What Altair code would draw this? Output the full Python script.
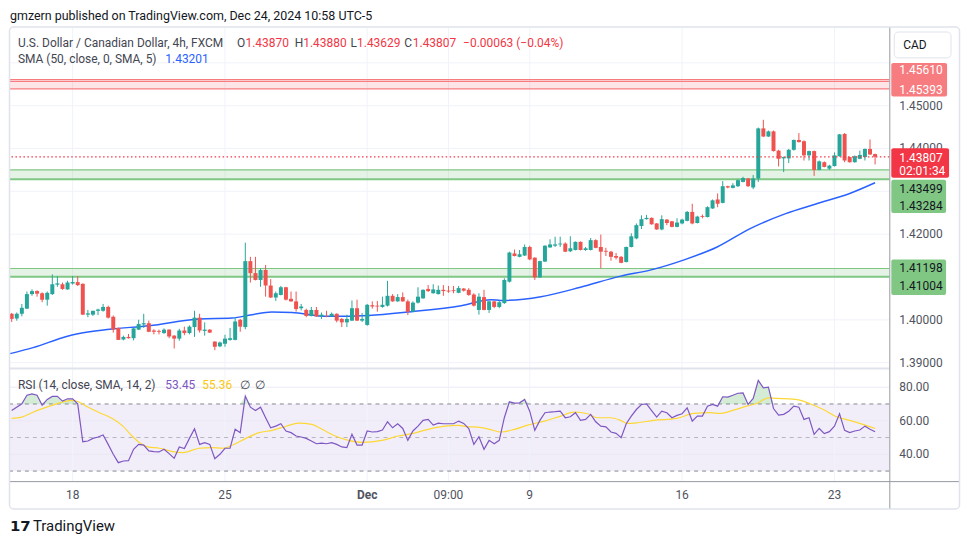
import altair as alt
import pandas as pd
import numpy as np

# ---------------- data ----------------
opens = [1.4014, 1.4003, 1.4014, 1.4026, 1.4060, 1.4067, 1.4062, 1.4047, 1.4060, 1.4082,
         1.4083, 1.4071, 1.4085, 1.4088, 1.4084, 1.4012, 1.4012, 1.4021, 1.4021, 1.4030,
         1.4007, 1.3981, 1.3954, 1.3960, 1.3957, 1.3977, 1.3989, 1.3992, 1.3975, 1.3974,
         1.3969, 1.3977, 1.3963, 1.3956, 1.3975, 1.3969, 1.3983, 1.4005, 1.3974, 1.3977,
         1.3949, 1.3938, 1.3944, 1.3953, 1.3953, 1.4000, 1.3983, 1.4137, 1.4109, 1.4093,
         1.4116, 1.4080, 1.4052, 1.4058, 1.4076, 1.4049, 1.4043, 1.4027, 1.4023, 1.4009,
         1.4023, 1.4008, 1.4009, 1.4008, 1.4014, 1.4002, 1.3994, 1.3998, 1.4027, 1.3998,
         1.3988, 1.4034, 1.4033, 1.4030, 1.4033, 1.4056, 1.4043, 1.4053, 1.4043, 1.4019,
         1.4040, 1.4050, 1.4072, 1.4062, 1.4060, 1.4070, 1.4068, 1.4069, 1.4063, 1.4073,
         1.4070, 1.4059, 1.4023, 1.4053, 1.4023, 1.4043, 1.4030, 1.4039, 1.4089, 1.4155,
         1.4147, 1.4150, 1.4170, 1.4145, 1.4099, 1.4136, 1.4169, 1.4173, 1.4176, 1.4178,
         1.4160, 1.4163, 1.4182, 1.4163, 1.4163, 1.4186, 1.4170, 1.4161, 1.4159, 1.4149,
         1.4147, 1.4135, 1.4170, 1.4190, 1.4219, 1.4235, 1.4238, 1.4225, 1.4211, 1.4234,
         1.4230, 1.4217, 1.4225, 1.4231, 1.4252, 1.4226, 1.4242, 1.4240, 1.4260, 1.4281,
         1.4273, 1.4312, 1.4308, 1.4312, 1.4322, 1.4330, 1.4309, 1.4330, 1.4447, 1.4428,
         1.4440, 1.4395, 1.4377, 1.4377, 1.4397, 1.4420, 1.4417, 1.4384, 1.4394, 1.4350,
         1.4368, 1.4353, 1.4359, 1.4382, 1.4434, 1.4380, 1.4368, 1.4376, 1.4380, 1.4399,
         1.43870]
highs = [1.4016, 1.4017, 1.4037, 1.4066, 1.4071, 1.4069, 1.4064, 1.4066, 1.4106, 1.4102,
         1.4087, 1.4091, 1.4102, 1.4102, 1.4085, 1.4023, 1.4021, 1.4026, 1.4037, 1.4033,
         1.4010, 1.3982, 1.3963, 1.3967, 1.3981, 1.4000, 1.4014, 1.3998, 1.3978, 1.3977,
         1.3980, 1.3978, 1.3964, 1.3979, 1.3984, 1.3987, 1.4021, 1.4014, 1.3994, 1.3978,
         1.3950, 1.3949, 1.3965, 1.3981, 1.4006, 1.4002, 1.4180, 1.4147, 1.4147, 1.4120,
         1.4128, 1.4095, 1.4066, 1.4079, 1.4077, 1.4066, 1.4066, 1.4037, 1.4026, 1.4030,
         1.4030, 1.4017, 1.4021, 1.4017, 1.4015, 1.4004, 1.4012, 1.4045, 1.4047, 1.4016,
         1.4037, 1.4043, 1.4044, 1.4054, 1.4091, 1.4060, 1.4060, 1.4064, 1.4047, 1.4043,
         1.4076, 1.4071, 1.4081, 1.4083, 1.4080, 1.4081, 1.4079, 1.4079, 1.4079, 1.4074,
         1.4074, 1.4062, 1.4062, 1.4070, 1.4044, 1.4044, 1.4045, 1.4097, 1.4159, 1.4164,
         1.4163, 1.4176, 1.4173, 1.4146, 1.4138, 1.4174, 1.4188, 1.4194, 1.4194, 1.4181,
         1.4195, 1.4183, 1.4183, 1.4170, 1.4191, 1.4188, 1.4199, 1.4168, 1.4161, 1.4156,
         1.4149, 1.4171, 1.4202, 1.4225, 1.4244, 1.4245, 1.4239, 1.4226, 1.4244, 1.4235,
         1.4231, 1.4237, 1.4236, 1.4254, 1.4271, 1.4243, 1.4246, 1.4265, 1.4281, 1.4295,
         1.4324, 1.4313, 1.4319, 1.4328, 1.4334, 1.4331, 1.4338, 1.4449, 1.4467, 1.4442,
         1.4442, 1.4397, 1.4381, 1.4399, 1.4421, 1.4436, 1.4419, 1.4395, 1.4395, 1.4372,
         1.4370, 1.4362, 1.4391, 1.4434, 1.4436, 1.4381, 1.4384, 1.4395, 1.4400, 1.4421,
         1.43880]
lows = [1.3995, 1.3998, 1.4008, 1.4025, 1.4056, 1.4054, 1.4041, 1.4033, 1.4058, 1.4077,
        1.4070, 1.4070, 1.4082, 1.4079, 1.4011, 1.4006, 1.4009, 1.4011, 1.4019, 1.4003,
        1.3970, 1.3953, 1.3952, 1.3956, 1.3952, 1.3976, 1.3981, 1.3971, 1.3966, 1.3966,
        1.3967, 1.3957, 1.3933, 1.3951, 1.3964, 1.3966, 1.3960, 1.3970, 1.3963, 1.3969,
        1.3929, 1.3936, 1.3937, 1.3951, 1.3952, 1.3972, 1.3978, 1.4087, 1.4092, 1.4077,
        1.4054, 1.4051, 1.4044, 1.4057, 1.4045, 1.4042, 1.4019, 1.4022, 1.4006, 1.4008,
        1.4007, 1.4002, 1.4006, 1.4007, 1.3994, 1.3983, 1.3983, 1.3997, 1.3997, 1.3995,
        1.3986, 1.4026, 1.4019, 1.4028, 1.4031, 1.4042, 1.4042, 1.4042, 1.4011, 1.4018,
        1.4038, 1.4049, 1.4065, 1.4061, 1.4059, 1.4056, 1.4063, 1.4062, 1.4062, 1.4066,
        1.4056, 1.4031, 1.4012, 1.4022, 1.4016, 1.4027, 1.4027, 1.4037, 1.4087, 1.4148,
        1.4146, 1.4149, 1.4139, 1.4093, 1.4098, 1.4135, 1.4168, 1.4170, 1.4170, 1.4158,
        1.4158, 1.4162, 1.4162, 1.4161, 1.4162, 1.4167, 1.4120, 1.4149, 1.4138, 1.4141,
        1.4132, 1.4134, 1.4169, 1.4188, 1.4212, 1.4234, 1.4222, 1.4210, 1.4209, 1.4221,
        1.4216, 1.4216, 1.4223, 1.4230, 1.4223, 1.4225, 1.4237, 1.4239, 1.4259, 1.4263,
        1.4272, 1.4307, 1.4307, 1.4310, 1.4321, 1.4310, 1.4305, 1.4322, 1.4427, 1.4427,
        1.4393, 1.4358, 1.4345, 1.4366, 1.4395, 1.4414, 1.4372, 1.4372, 1.4336, 1.4349,
        1.4356, 1.4350, 1.4358, 1.4381, 1.4368, 1.4367, 1.4367, 1.4375, 1.4372, 1.4385,
        1.43629]
closes = [1.4002, 1.4014, 1.4028, 1.4060, 1.4067, 1.4061, 1.4047, 1.4063, 1.4083, 1.4085,
          1.4072, 1.4087, 1.4088, 1.4081, 1.4012, 1.4015, 1.4021, 1.4024, 1.4030, 1.4005,
          1.3977, 1.3953, 1.3960, 1.3957, 1.3980, 1.3990, 1.3992, 1.3972, 1.3972, 1.3972,
          1.3977, 1.3961, 1.3956, 1.3975, 1.3969, 1.3984, 1.4005, 1.3975, 1.3977, 1.3970,
          1.3937, 1.3947, 1.3956, 1.3957, 1.3996, 1.3984, 1.4137, 1.4109, 1.4093, 1.4116,
          1.4080, 1.4052, 1.4062, 1.4076, 1.4047, 1.4043, 1.4025, 1.4031, 1.4009, 1.4023,
          1.4008, 1.4012, 1.4008, 1.4014, 1.3998, 1.3994, 1.4002, 1.4027, 1.3998, 1.4002,
          1.4035, 1.4031, 1.4031, 1.4035, 1.4056, 1.4043, 1.4053, 1.4043, 1.4019, 1.4040,
          1.4054, 1.4070, 1.4067, 1.4071, 1.4070, 1.4067, 1.4066, 1.4067, 1.4074, 1.4068,
          1.4058, 1.4033, 1.4054, 1.4023, 1.4043, 1.4030, 1.4041, 1.4093, 1.4157, 1.4149,
          1.4153, 1.4170, 1.4141, 1.4099, 1.4137, 1.4173, 1.4176, 1.4176, 1.4178, 1.4159,
          1.4167, 1.4182, 1.4163, 1.4167, 1.4186, 1.4168, 1.4159, 1.4159, 1.4147, 1.4145,
          1.4133, 1.4170, 1.4195, 1.4221, 1.4235, 1.4238, 1.4223, 1.4211, 1.4235, 1.4226,
          1.4217, 1.4227, 1.4234, 1.4252, 1.4225, 1.4241, 1.4240, 1.4263, 1.4279, 1.4271,
          1.4312, 1.4309, 1.4314, 1.4326, 1.4331, 1.4312, 1.4330, 1.4447, 1.4428, 1.4440,
          1.4394, 1.4376, 1.4380, 1.4397, 1.4420, 1.4415, 1.4384, 1.4394, 1.4350, 1.4370,
          1.4357, 1.4360, 1.4384, 1.4433, 1.4372, 1.4368, 1.4382, 1.4385, 1.4399, 1.4386,
          1.43807]

# SMA(50) line, read at a few points along its path (bar index, price)
sma_idx = [-0.3, 4.2, 10.8, 12.8, 19.3, 27.1, 36.9, 43.4, 47.3, 51.2, 55.2, 60.5, 62.4, 70.3,
           78.7, 88.5, 94.4, 96.3, 104.2, 112.0, 119.9, 125.7, 132.4, 138.9, 145.4, 152.4,
           158.5, 165.0, 170.0]
sma_val = [1.3921, 1.3935, 1.3961, 1.3967, 1.3978, 1.3986, 1.4002, 1.4004, 1.4012, 1.4018,
           1.4017, 1.4009, 1.4008, 1.4010, 1.4019, 1.4033, 1.4047, 1.4045, 1.4054, 1.4076,
           1.4102, 1.4116, 1.4140, 1.4170, 1.4213, 1.4248, 1.4271, 1.4295, 1.43201]

# RSI(14)
rsi_idx = [0] + list(range(2, 171))
rsi_val = [66.1,
           70.1, 75.2, 76.0, 75.2, 69.3, 72.7, 74.5, 74.5,
           71.7, 73.1, 73.1, 70.1, 47.5, 47.9, 49.5, 50.3, 51.5, 45.9,
           40.0, 35.0, 36.0, 36.2, 43.0, 45.9, 45.5, 42.0, 41.6, 41.4,
           43.0, 40.4, 37.6, 44.4, 43.4, 49.5, 55.2, 45.9, 46.9, 45.9,
           37.4, 40.0, 43.6, 43.6, 54.9, 52.9, 74.7, 68.1, 66.1, 68.1,
           61.8, 55.8, 56.8, 58.2, 53.9, 52.9, 50.9, 50.3, 49.5, 47.9,
           46.3, 46.7, 46.3, 46.9, 45.9, 44.4, 44.0, 51.9, 45.5, 45.5,
           53.9, 53.3, 53.5, 54.5, 59.4, 55.8, 58.2, 55.4, 48.3, 53.9,
           56.8, 60.2, 60.8, 57.4, 58.6, 58.2, 58.2, 58.2, 59.8, 58.4,
           55.4, 45.9, 50.5, 43.0, 48.3, 46.3, 48.3, 61.8, 71.3, 70.5,
           70.7, 72.7, 65.7, 54.3, 60.2, 64.8, 65.2, 65.4, 65.7, 61.8,
           62.4, 64.8, 60.2, 60.8, 63.8, 59.4, 56.8, 56.4, 53.3, 52.5,
           49.9, 58.2, 62.8, 66.7, 69.7, 70.1, 66.1, 62.2, 65.7, 64.8,
           61.8, 63.2, 64.2, 67.7, 59.8, 62.8, 62.8, 68.7, 69.7, 68.7,
           74.3, 74.1, 75.2, 76.4, 76.6, 69.7, 73.3, 84.0, 79.6, 80.0,
           67.3, 63.4, 63.8, 65.7, 68.7, 68.1, 60.8, 61.8, 51.9, 55.4,
           52.3, 53.5, 56.8, 64.2, 54.3, 52.9, 53.9, 54.5, 56.8, 54.9,
           53.45]
# RSI moving average (14)
rsima_idx = [0, 2, 4.2, 6.9, 9.5, 11.8, 13.1, 14.7, 17.3, 19.9, 21.9, 23.5, 25.2, 26.8, 29.1,
             31.7, 33.7, 36.9, 39.5, 41.5, 43.5, 46.1, 48.7, 51.3, 53.9, 56.5, 59.1, 61.1,
             63.7, 66.3, 69.0, 72.9, 76.1, 78.8, 82.0, 85.3, 87.9, 89.9, 91.8, 94.1, 96.4,
             99.0, 101.6, 104.9, 108.1, 110.8, 113.4, 115.3, 117.9, 119.9, 121.2, 123.2,
             126.4, 131.0, 134.3, 137.5, 139.5, 142.1, 144.7, 146.7, 149.0, 150.6, 153.2,
             155.2, 157.2, 159.8, 162.4, 165.0, 167.6, 170]
rsima_val = [61.4, 62.2, 65.1, 68.1, 70.7, 72.1, 71.3, 68.7, 64.8, 61.2, 56.8, 51.5, 46.9, 44.4,
             43.6, 41.6, 41.0, 43.6, 44.0, 43.6, 45.5, 49.5, 52.9, 54.3, 56.6, 58.6, 57.8,
             54.9, 50.9, 48.3, 47.1, 48.3, 50.9, 52.3, 54.9, 56.8, 57.2, 56.4, 56.2, 54.9,
             53.3, 54.9, 57.4, 59.8, 62.8, 65.1, 64.2, 61.8, 61.8, 60.2, 58.4, 58.8, 60.2,
             61.4, 64.4, 64.8, 64.4, 66.3, 68.7, 70.3, 73.7, 73.3, 73.1, 72.3, 70.1, 66.7,
             62.4, 60.2, 57.8, 55.36]

price_ticks = [1.39, 1.40, 1.41, 1.42, 1.43, 1.44, 1.45, 1.46]      # grid lines
price_labels = [1.39, 1.40, 1.42, 1.44, 1.45]                        # labels not hidden by tags
rsi_ticks = [40, 60, 80]
rsi_levels = [30, 50, 70]
time_idx = [12, 42, 70, 86, 102, 132, 162]
time_lbl = ["18", "25", "Dec", "09:00", "9", "16", "23"]

red_zone = [1.45393, 1.45610]
red_extra_line = 1.45565
green_zone_hi = [1.43284, 1.43499]
green_zone_lo = [1.41004, 1.41198]
last_price = 1.43807

# ---------------- chart ----------------
W, H = 883, 455
UP, DOWN = "#26a69a", "#ef5350"
FONT = "Roboto"
XS = alt.Scale(domain=[-0.333, 172.8], nice=False, zero=False, padding=0)


def ym():
    return alt.Scale(domain=[1.38860, 1.46814], range=[342, 0], nice=False, zero=False)


def yr():
    return alt.Scale(domain=[24.0, 91.1], range=[455, 342], nice=False, zero=False)


ONE = pd.DataFrame({"a": [0]})


def T(px, py, s, color="#131722", size=12, weight="normal", align="left", font=FONT):
    # px, py are page pixel positions of annotation text
    return alt.Chart(ONE).mark_text(text=s, color=color, fontSize=size, fontWeight=weight,
                                    align=align, baseline="middle", font=font).encode(
        x=alt.value(px - 10), y=alt.value(py - 27))


def BOX(x0, y0, x1, y1, fill, stroke=None, sw=1, radius=0, fill_opacity=1.0):
    kw = dict(fill=fill, fillOpacity=fill_opacity, cornerRadius=radius)
    if stroke:
        kw.update(stroke=stroke, strokeWidth=sw)
    return alt.Chart(ONE).mark_rect(**kw).encode(
        x=alt.value(x0 - 10), x2=alt.value(x1 - 10), y=alt.value(y0 - 27), y2=alt.value(y1 - 27))


def PLABEL(price, s, dy, color, bold=False):
    return alt.Chart(pd.DataFrame({"p": [price]})).mark_text(
        text=s, align="left", baseline="middle", dy=dy, fontSize=12, font=FONT,
        fontWeight="bold" if bold else "normal", color=color).encode(
        x=alt.value(893), y=alt.Y("p:Q", scale=ym(), axis=None))


df = pd.DataFrame({"k": list(range(len(closes))), "o": opens, "h": highs, "l": lows, "c": closes})
df["col"] = np.where(df["c"] >= df["o"], UP, DOWN)

df_r = pd.DataFrame({"k": rsi_idx, "r": rsi_val})
df_r["top"] = np.maximum(df_r["r"], 70.0)
df_r["base"] = 70.0

layers = []

# RSI background band 30-70
layers.append(alt.Chart(pd.DataFrame({"lo": [rsi_levels[0]], "hi": [rsi_levels[2]]})).mark_rect(
    color="#7e57c2", opacity=0.1).encode(
    x=alt.value(0), x2=alt.value(W), y=alt.Y("lo:Q", scale=yr(), axis=None), y2="hi:Q"))

# grids
layers.append(alt.Chart(pd.DataFrame({"p": price_ticks})).mark_rule(color="#f0f3fa").encode(
    y=alt.Y("p:Q", scale=ym(), axis=None)))
layers.append(alt.Chart(pd.DataFrame({"r": rsi_ticks})).mark_rule(color="#ebe8f5").encode(
    y=alt.Y("r:Q", scale=yr(), axis=None)))
layers.append(alt.Chart(pd.DataFrame({"k": time_idx})).mark_rule(color="#f0f3fa").encode(
    x=alt.X("k:Q", scale=XS, axis=None), y=alt.value(0), y2=alt.value(H)))


# zones
def zone(lo, hi, fill, op, line_color, widths):
    rect = alt.Chart(pd.DataFrame({"lo": [lo], "hi": [hi]})).mark_rect(color=fill, opacity=op).encode(
        x=alt.value(0), x2=alt.value(W), y=alt.Y("lo:Q", scale=ym(), axis=None), y2="hi:Q")
    lines = alt.Chart(pd.DataFrame({"p": [lo, hi], "w": widths})).mark_rule(color=line_color).encode(
        y=alt.Y("p:Q", scale=ym(), axis=None), strokeWidth=alt.StrokeWidth("w:Q", scale=None))
    return [rect, lines]


layers += zone(red_zone[0], red_zone[1], "#f23645", 0.13, "#f77c80", [1.2, 1.2])
layers.append(alt.Chart(pd.DataFrame({"p": [red_extra_line]})).mark_rule(color="#f77c80").encode(
    y=alt.Y("p:Q", scale=ym(), axis=None)))
layers += zone(green_zone_hi[0], green_zone_hi[1], "#4caf50", 0.15, "#81c784", [2, 1.2])
layers += zone(green_zone_lo[0], green_zone_lo[1], "#4caf50", 0.15, "#81c784", [2, 1.2])

# RSI levels
layers.append(alt.Chart(pd.DataFrame({"r": rsi_levels, "op": [0.9, 0.5, 0.9]})).mark_rule(
    color="#787b86", strokeDash=[4, 4]).encode(
    y=alt.Y("r:Q", scale=yr(), axis=None), opacity=alt.Opacity("op:Q", scale=None)))

# pane separator
layers.append(alt.Chart(ONE).mark_rule(color="#e0e3eb", strokeWidth=2).encode(
    y=alt.value(342), x=alt.value(0), x2=alt.value(W)))

# SMA
layers.append(alt.Chart(pd.DataFrame({"k": sma_idx, "v": sma_val})).mark_line(
    color="#2962ff", strokeWidth=1.5, interpolate="monotone").encode(
    x=alt.X("k:Q", scale=XS, axis=None), y=alt.Y("v:Q", scale=ym(), axis=None)))

# candles
layers.append(alt.Chart(df).mark_rule(strokeWidth=1).encode(
    x=alt.X("k:Q", scale=XS, axis=None), y=alt.Y("l:Q", scale=ym(), axis=None), y2="h:Q",
    color=alt.Color("col:N", scale=None)))
layers.append(alt.Chart(df).mark_bar(size=4).encode(
    x=alt.X("k:Q", scale=XS, axis=None), y=alt.Y("o:Q", scale=ym(), axis=None), y2="c:Q",
    color=alt.Color("col:N", scale=None)))

# last price dotted line
layers.append(alt.Chart(pd.DataFrame({"p": [last_price]})).mark_rule(
    color="#f23645", strokeDash=[1.5, 2.5], strokeWidth=1.2).encode(
    y=alt.Y("p:Q", scale=ym(), axis=None)))

# RSI overbought fill, MA line, RSI line
layers.append(alt.Chart(df_r).mark_area(color="#66bb6a", opacity=0.28).encode(
    x=alt.X("k:Q", scale=XS, axis=None), y=alt.Y("top:Q", scale=yr(), axis=None), y2="base:Q"))
layers.append(alt.Chart(pd.DataFrame({"k": rsima_idx, "v": rsima_val})).mark_line(
    color="#fdd835", strokeWidth=1.2, interpolate="monotone").encode(
    x=alt.X("k:Q", scale=XS, axis=None), y=alt.Y("v:Q", scale=yr(), axis=None)))
layers.append(alt.Chart(df_r).mark_line(color="#7e57c2", strokeWidth=1.2).encode(
    x=alt.X("k:Q", scale=XS, axis=None), y=alt.Y("r:Q", scale=yr(), axis=None)))

# axis separators
layers.append(alt.Chart(ONE).mark_rule(color="#9598a1", strokeWidth=1).encode(
    x=alt.value(883.5), y=alt.value(-1), y2=alt.value(483)))
layers.append(alt.Chart(ONE).mark_rule(color="#9598a1", strokeWidth=1).encode(
    y=alt.value(455.5), x=alt.value(0), x2=alt.value(953)))

# price axis labels
layers.append(alt.Chart(pd.DataFrame({"p": price_labels, "t": [f"{v:.5f}" for v in price_labels]})).mark_text(
    align="left", baseline="middle", fontSize=12, font=FONT, color="#50535e").encode(
    x=alt.value(893), y=alt.Y("p:Q", scale=ym(), axis=None), text="t:N"))
# RSI axis labels
layers.append(alt.Chart(pd.DataFrame({"r": rsi_ticks, "t": [f"{v:.2f}" for v in rsi_ticks]})).mark_text(
    align="left", baseline="middle", fontSize=12, font=FONT, color="#50535e").encode(
    x=alt.value(893), y=alt.Y("r:Q", scale=yr(), axis=None), text="t:N"))
# time axis labels
tl = pd.DataFrame({"k": time_idx, "t": time_lbl})
layers.append(alt.Chart(tl[tl["t"] != "Dec"]).mark_text(
    baseline="middle", fontSize=12, font=FONT, color="#50535e").encode(
    x=alt.X("k:Q", scale=XS, axis=None), y=alt.value(468.7), text="t:N"))
layers.append(alt.Chart(tl[tl["t"] == "Dec"]).mark_text(
    baseline="middle", fontSize=12, font=FONT, fontWeight="bold", color="#50535e").encode(
    x=alt.X("k:Q", scale=XS, axis=None), y=alt.value(468.7), text="t:N"))

# coloured price-scale labels
layers.append(BOX(895, 62, 951, 95.7, "#f77c80", radius=2))
layers.append(PLABEL(red_zone[1], f"{red_zone[1]:.5f}", -9.6, "white"))
layers.append(PLABEL(red_zone[0], f"{red_zone[0]:.5f}", 1.2, "white"))

layers.append(BOX(895, 147.7, 953, 177.3, "#f23645", radius=2))
layers.append(PLABEL(last_price, f"{last_price:.5f}", 1.4, "white"))
layers.append(T(903, 170.7, "02:01:34", color="white"))

layers.append(BOX(895, 179.3, 950, 212.7, "#81c784", radius=2))
layers.append(PLABEL(green_zone_hi[1], f"{green_zone_hi[1]:.5f}", 19.2, "#131722"))
layers.append(PLABEL(green_zone_hi[0], f"{green_zone_hi[0]:.5f}", 27.2, "#131722"))

layers.append(BOX(895, 259.5, 950, 295, "#81c784", radius=2))
layers.append(PLABEL(green_zone_lo[1], f"{green_zone_lo[1]:.5f}", -0.2, "#131722"))
layers.append(PLABEL(green_zone_lo[0], f"{green_zone_lo[0]:.5f}", 9.2, "#131722"))

# CAD button
layers.append(BOX(898, 31, 955, 57, "white", stroke="#e0e3eb", sw=1, radius=4))
layers.append(T(907, 44, "CAD"))

# legends
layers.append(T(10, 15, "gmzern published on TradingView.com, Dec 24, 2024 10:58 UTC-5", size=12.5))
layers.append(T(18, 42, "U.S. Dollar / Canadian Dollar, 4h, FXCM", color="#434651"))
for px, lab, val in [(238, "O", "1.43870"), (296, "H", "1.43880"), (352, "L", "1.43629"), (406, "C", "1.43807")]:
    layers.append(T(px, 42, lab, color="#434651"))
    layers.append(T(px + (6.5 if lab == "L" else 8.5), 42, val, color="#f23645"))
layers.append(T(465, 42, "\u22120.00063 (\u22120.04%)", color="#f23645"))
layers.append(T(18, 58, "SMA (50, close, 0, SMA, 5)", color="#434651"))
layers.append(T(166, 58, "1.43201", color="#2962ff"))
layers.append(T(18, 385, "RSI (14, close, SMA, 14, 2)", color="#434651"))
layers.append(T(166, 385, "53.45", color="#7e57c2"))
layers.append(T(203, 385, "55.36", color="#f9c80e"))
layers.append(T(241, 385, "\u2205", color="#434651"))
layers.append(T(256, 385, "\u2205", color="#434651"))

# outer frame
layers.append(BOX(9.5, 26, 963.5, 510, "white", stroke="#e0e3eb", sw=1.5, radius=4, fill_opacity=0))

# footer
layers.append(T(10, 527, "17", size=15, weight="bold", font="DejaVu Sans"))
layers.append(T(33, 527, "TradingView", size=15))

chart = alt.layer(*layers).resolve_scale(y="independent").properties(
    width=W, height=H,
    autosize=alt.AutoSizeParams(type="none"),
    padding={"left": 2, "top": 19, "right": 73, "bottom": 55},
    background="white",
).configure_view(stroke=None)

chart.save("out.html", embed_options={"renderer": "svg", "actions": False})
